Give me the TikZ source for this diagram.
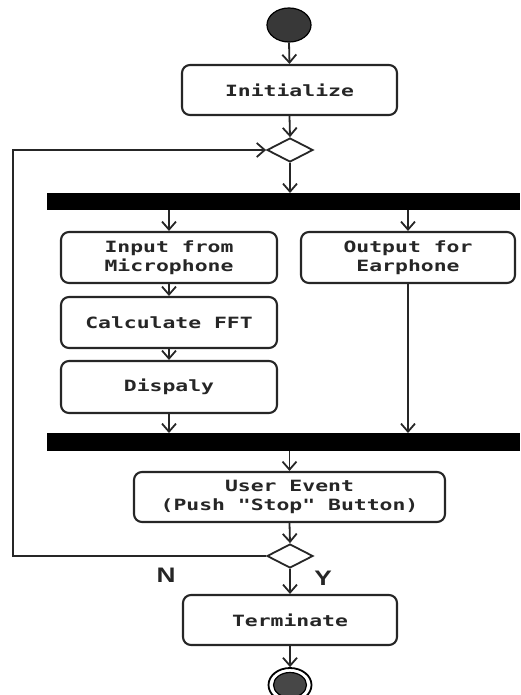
\documentclass[tikz,border=0pt]{standalone}
\usepackage{fontspec}
\setmonofont{DejaVu Sans Mono}[FakeStretch=1.38]
\newfontfamily\lblfont{Liberation Sans}[FakeStretch=1.25]
\usetikzlibrary{arrows.meta,shapes.geometric,calc}
\begin{document}
\begin{tikzpicture}[x=1pt,y=-1pt,
  act/.style={draw=black!85, rounded corners=8pt, line width=2.1pt, fill=white,
    inner sep=0pt, align=center, text=black!85, font=\ttfamily\bfseries\fontsize{15.5}{19.5}\selectfont},
  bar/.style={fill=black, draw=none, inner sep=0pt},
  dec/.style={diamond, draw=black!85, line width=1.8pt, fill=white, inner sep=0pt, aspect=1.9, minimum width=46pt, minimum height=24pt},
  flow/.style={-{Straight Barb[length=8pt,width=14pt]}, line width=1.8pt, draw=black!85},
  lbl/.style={font=\lblfont\bfseries\fontsize{21}{23}\selectfont, text=black!85}]
\useasboundingbox (0,0) rectangle (520,695);
% start
\node[ellipse, draw=black, line width=1.2pt, fill=black!78, minimum width=44pt, minimum height=34pt, inner sep=0pt] (start) at (289,25) {};
% activities
\node[act, minimum width=215pt, minimum height=50pt] (init) at (289.5,90) {Initialize};
\node[dec] (d1) at (290,150) {};
\node[bar, minimum width=473pt, minimum height=17pt, anchor=north west] (bar1) at (47,193) {};
\node[act, minimum width=216pt, minimum height=51pt] (input) at (169,257.5) {Input from\\Microphone};
\node[act, minimum width=214pt, minimum height=51pt] (output) at (408,257.5) {Output for\\Earphone};
\node[act, minimum width=216pt, minimum height=51pt] (fft) at (169,322.5) {Calculate FFT};
\node[act, minimum width=216pt, minimum height=52pt] (disp) at (169,387) {Dispaly};
\node[bar, minimum width=473pt, minimum height=18pt, anchor=north west] (bar2) at (47,433) {};
\node[act, minimum width=311pt, minimum height=50pt] (user) at (289.5,497) {User Event\\(Push "Stop" Button)};
\node[dec] (d2) at (290,556) {};
\node[act, minimum width=214pt, minimum height=50pt] (term) at (290,620) {Terminate};
% end
\node[ellipse, draw=black, line width=1.8pt, fill=white, minimum width=43pt, minimum height=34pt, inner sep=0pt] (endo) at (290,685) {};
\node[ellipse, draw=black, line width=1.2pt, fill=black!72, minimum width=33pt, minimum height=25pt, inner sep=0pt] (endi) at (290,685) {};
% labels
\node[lbl] (n) at (166,575) {N};
\node[lbl] (y) at (323,578) {Y};
% connectors
\draw[flow] (start.south) -- (init.north);
\draw[flow] (init.south) -- (d1.north);
\draw[flow] (d1.south) -- (d1.south |- bar1.north);
\draw[flow] (bar1.south -| input.north) -- (input.north);
\draw[flow] (bar1.south -| output.north) -- (output.north);
\draw[flow] (input.south) -- (fft.north);
\draw[flow] (fft.south) -- (disp.north);
\draw[flow] (disp.south) -- (disp.south |- bar2.north);
\draw[flow] (output.south) -- (output.south |- bar2.north);
\draw[flow] (bar2.south -| user.north) -- (user.north);
\draw[flow] (user.south) -- (d2.north);
\draw[flow] (d2.south) -- (term.north);
\draw[flow] (term.south) -- (endo.north);
\coordinate (lb) at (13,556);
\coordinate (lt) at (13,150);
\draw[flow] (d2.west) -- (lb) -- (lt) -- (d1.west);
\end{tikzpicture}
\end{document}
